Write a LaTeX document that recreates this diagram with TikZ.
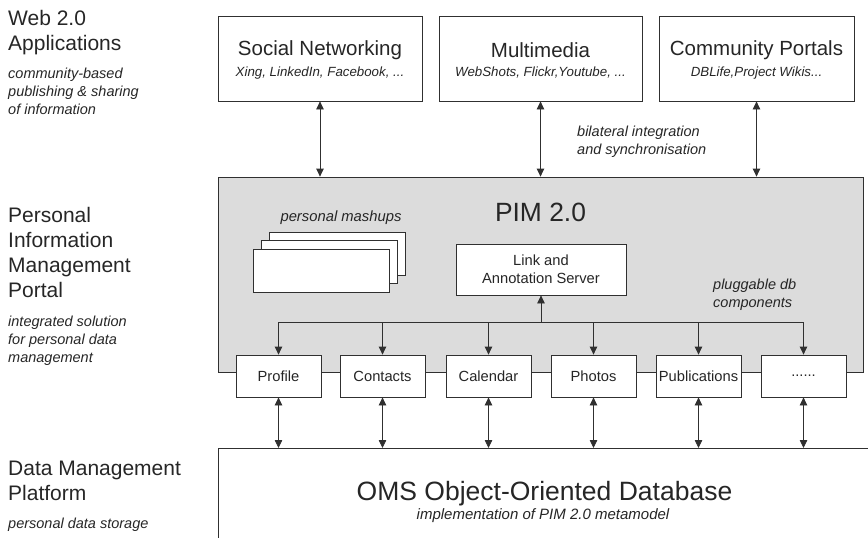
\documentclass[tikz,border=0pt]{standalone}
\usepackage{fontspec}
\setmainfont{Liberation Sans}
\usetikzlibrary{arrows.meta}
\definecolor{txt}{HTML}{262626}
\definecolor{ln}{HTML}{303030}
\definecolor{pimfill}{HTML}{DCDCDC}
\newcommand{\fsz}[2]{\fontsize{#1}{#2}\selectfont}
\begin{document}
\begin{tikzpicture}[x=1pt,y=-1pt,
  box/.style={draw=ln, line width=0.8pt, fill=white, inner sep=0pt},
  txtn/.style={text=txt, inner sep=0pt},
  conn/.style={draw=ln, line width=0.8pt},
  bi/.style={conn, {Triangle[length=8pt,width=7.5pt]}-{Triangle[length=8pt,width=7.5pt]}},
  one/.style={conn, -{Triangle[length=8pt,width=7.5pt]}},
  topbox/.style={box, minimum height=85pt},
  tboxtitle/.style={txtn, font=\fsz{20.5}{24}},
  tboxsub/.style={txtn, font=\fsz{13.3}{16}\itshape},
  mash/.style={box, minimum width=136pt, minimum height=43pt},
  comp/.style={box, minimum width=85pt, minimum height=42pt, font=\fsz{14.7}{18}, text=txt},
  lab/.style={txtn, anchor=base west, font=\fsz{21}{25}},
  labi/.style={txtn, anchor=base west, font=\fsz{14.5}{18}\itshape},
  note/.style={txtn, anchor=west, align=left, font=\fsz{14.5}{18}\itshape}]
\useasboundingbox (0,0) rectangle (868,538);

% left labels
\node[lab] (la1) at (8,25.5) {Web 2.0};
\node[lab] (la2) at (8,50.5) {Applications};
\node[labi] (la3) at (8,78) {community-based};
\node[labi] (la4) at (8,96) {publishing \& sharing};
\node[labi] (la5) at (8,114) {of information};

\node[lab] (lb1) at (8,222.5) {Personal};
\node[lab] (lb2) at (8,247.5) {Information};
\node[lab] (lb3) at (8,272.5) {Management};
\node[lab] (lb4) at (8,297.5) {Portal};
\node[labi] (lb5) at (8,326) {integrated solution};
\node[labi] (lb6) at (8,344) {for personal data};
\node[labi] (lb7) at (8,362) {management};

\node[lab] (lc1) at (8,475.5) {Data Management};
\node[lab] (lc2) at (8,500.5) {Platform};
\node[labi] (lc3) at (8,528) {personal data storage};

% top boxes
\node[topbox, minimum width=204pt] (sn) at (320,58.5) {};
\node[tboxtitle] (snt) at (320,50) {Social Networking};
\node[tboxsub] (sns) at (320,73) {Xing, LinkedIn, Facebook, ...};

\node[topbox, minimum width=203pt] (mm) at (540.5,58.5) {};
\node[tboxtitle] (mmt) at (540.5,50) {Multimedia};
\node[tboxsub] (mms) at (540.5,73) {WebShots, Flickr,Youtube, ...};

\node[topbox, minimum width=195pt] (cp) at (756.5,58.5) {};
\node[tboxtitle] (cpt) at (756.5,50) {Community Portals};
\node[tboxsub] (cps) at (756.5,73) {DBLife,Project Wikis...};

\node[note] (bil) at (577,142) {bilateral integration\\and synchronisation};

% PIM box
\node[box, fill=pimfill, minimum width=645pt, minimum height=195pt] (pim) at (540.5,274.5) {};
\node[txtn, font=\fsz{26.4}{30}] (pimt) at (540.5,212) {PIM 2.0};

\node[txtn, font=\fsz{14.8}{18}\itshape] (mt) at (341,218) {personal mashups};
\node[mash] (m3) at (337,253.5) {};
\node[mash] (m2) at (329,262) {};
\node[mash] (m1) at (321,270.5) {};

\node[box, minimum width=170pt, minimum height=51pt, font=\fsz{14.7}{18}, text=txt, align=center] (las) at (541,269.5) {Link and\\Annotation Server};

\node[note] (plug) at (713,295) {pluggable db\\components};

% components
\node[comp] (c1) at (278.5,376) {Profile};
\node[comp] (c2) at (382.5,376) {Contacts};
\node[comp] (c3) at (488.5,376) {Calendar};
\node[comp] (c4) at (593.5,376) {Photos};
\node[comp] (c5) at (698.5,376) {Publications};
\node[comp] (c6) at (803.5,376) {......};

% database
\node[box, anchor=north west, minimum width=680pt, minimum height=120pt] (db) at (218,448) {};
\node[txtn, font=\fsz{26.5}{30}] (dbt) at (544.5,494) {OMS Object-Oriented Database};
\node[txtn, font=\fsz{15}{18}\itshape] (dbs) at (543,516) {implementation of PIM 2.0 metamodel};

% connectors
\draw[bi] (sn.south) -- (sn.south |- pim.north);
\draw[bi] (mm.south) -- (mm.south |- pim.north);
\draw[bi] (cp.south) -- (cp.south |- pim.north);

\coordinate (bus) at (541,322);
\draw[conn] (c1.north |- bus) -- (c6.north |- bus);
\draw[one] (bus) -- (las.south);
\foreach \c in {c1,c2,c3,c4,c5,c6}{
  \draw[one] (\c.north |- bus) -- (\c.north);
  \draw[bi] (\c.south) -- (\c.south |- db.north);
}
\end{tikzpicture}
\end{document}
